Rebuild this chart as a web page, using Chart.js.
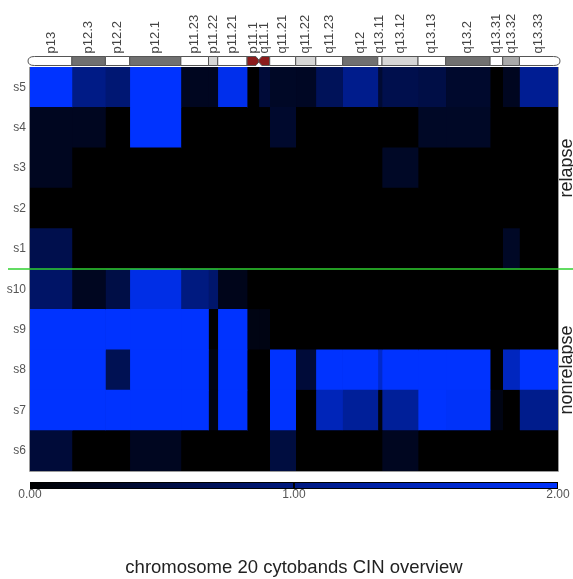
<!DOCTYPE html>
<html>
<head>
<meta charset="utf-8">
<title>chromosome 20 cytobands CIN overview</title>
<script src="https://cdn.jsdelivr.net/npm/chart.js@4.4.1/dist/chart.umd.min.js"></script>
<style>
  html, body { margin: 0; padding: 0; background: #fff; }
  canvas { display: block; }
</style>
</head>
<body>
<canvas id="cin-chart" width="573" height="579"></canvas>
<script>
// Cytobands of chromosome 20 (start positions in Mb)
const bands = ['p13', 'p12.3', 'p12.2', 'p12.1', 'p11.23', 'p11.22', 'p11.21', 'p11.1', 'q11.1',
  'q11.21', 'q11.22', 'q11.23', 'q12', 'q13.11', 'q13.12', 'q13.13', 'q13.2', 'q13.31', 'q13.32', 'q13.33'];
const bandStart = [0, 5.0, 9.0, 11.9, 18.0, 21.3, 22.4, 25.9, 27.3,
  28.6, 31.7, 34.1, 37.3, 41.5, 42.0, 46.3, 49.6, 54.9, 56.4, 58.4];
const chromEnd = 63.0;
const bandStain = ['gneg', 'gpos75', 'gneg', 'gpos75', 'gneg', 'gpos25', 'gneg', 'acen', 'acen',
  'gneg', 'gpos25', 'gneg', 'gpos75', 'gneg', 'gpos25', 'gneg', 'gpos75', 'gneg', 'gpos50', 'gneg'];

// Samples, top to bottom
const samples = ['s5', 's4', 's3', 's2', 's1', 's10', 's9', 's8', 's7', 's6'];
const groups = ['relapse', 'nonrelapse'];
const groupSize = [5, 5];

// CIN value per cytoband (0 .. 2)
const s5 = [2.0, 1.05, 0.9, 2.0, 0.25, 0.25, 1.85, 0, 0.45, 0.3, 0.28, 0.7, 1.1, 0.4, 0.6, 0.55, 0.35, 0, 0.25, 1.15];
const s4 = [0.25, 0.25, 0, 2.0, 0, 0, 0, 0, 0, 0.35, 0, 0, 0, 0, 0, 0.3, 0.3, 0, 0, 0];
const s3 = [0.25, 0, 0, 0, 0, 0, 0, 0, 0, 0, 0, 0, 0, 0, 0.3, 0, 0, 0, 0, 0];
const s2 = [0, 0, 0, 0, 0, 0, 0, 0, 0, 0, 0, 0, 0, 0, 0, 0, 0, 0, 0, 0];
const s1 = [0.6, 0, 0, 0, 0, 0, 0, 0, 0, 0, 0, 0, 0, 0, 0, 0, 0, 0, 0.3, 0];
const s10 = [0.8, 0.25, 0.55, 1.8, 1.0, 0.85, 0.2, 0, 0, 0, 0, 0, 0, 0, 0, 0, 0, 0, 0, 0];
const s9 = [2.0, 2.0, 2.0, 2.0, 2.0, 0, 2.0, 0.15, 0.15, 0, 0, 0, 0, 0, 0, 0, 0, 0, 0, 0];
const s8 = [2.0, 2.0, 0.65, 2.0, 2.0, 0.15, 2.0, 0, 0, 2.0, 0.45, 2.0, 2.0, 1.6, 2.0, 2.0, 2.0, 0, 1.5, 2.0];
const s7 = [2.0, 2.0, 2.0, 2.0, 2.0, 0.15, 2.0, 0, 0, 2.0, 0, 1.45, 1.2, 0.1, 1.2, 2.0, 1.95, 0.15, 0, 1.1];
const s6 = [0.45, 0, 0, 0.25, 0, 0, 0, 0, 0, 0.5, 0, 0, 0, 0, 0.25, 0, 0, 0, 0, 0];
const cinRows = [s5, s4, s3, s2, s1, s10, s9, s8, s7, s6];

// Colour bar
const colorTicks = [0, 1, 2];
const colorMax = 2;
const titleText = 'chromosome 20 cytobands CIN overview';

const FONT = "Arial, 'Liberation Sans', sans-serif";
const stainColors = { gneg: '#ffffff', gpos25: '#d6d6d6', gpos50: '#a9a9a9', gpos75: '#707070', acen: '#8c1c1c' };

function cinColor(v) {
  const t = Math.max(0, Math.min(1, v / colorMax));
  return 'rgb(0,' + Math.round(51 * t) + ',' + Math.round(255 * t) + ')';
}

function bandEnd(b) {
  return b < bands.length - 1 ? bandStart[b + 1] : chromEnd;
}

// one floating-bar dataset per cytoband, one bar per sample
const datasets = bands.map((band, b) => ({
  label: band,
  data: samples.map(() => [bandStart[b], bandEnd(b)]),
  backgroundColor: cinRows.map(row => cinColor(row[b])),
  borderWidth: 0,
  barPercentage: 1,
  categoryPercentage: 1
}));

const overlayPlugin = {
  id: 'cinOverlay',
  beforeDatasetsDraw(chart) {
    const { ctx, chartArea: a } = chart;
    ctx.save();
    ctx.fillStyle = '#000';
    ctx.fillRect(a.left, a.top, a.right - a.left, a.bottom - a.top);
    ctx.restore();
  },
  afterDatasetsDraw(chart) {
    const { ctx, chartArea: a, scales: { x, y } } = chart;
    ctx.save();

    // frame
    ctx.strokeStyle = '#9a9a9a';
    ctx.lineWidth = 1;
    ctx.beginPath();
    ctx.moveTo(a.left - 0.5, a.top);
    ctx.lineTo(a.left - 0.5, a.bottom + 0.5);
    ctx.lineTo(a.right + 0.5, a.bottom + 0.5);
    ctx.lineTo(a.right + 0.5, a.top);
    ctx.stroke();

    // ideogram
    const top = a.top - 10.5, h = 9, bot = top + h, mid = top + h / 2;
    ctx.strokeStyle = '#555';
    bands.forEach((band, b) => {
      const x0 = x.getPixelForValue(bandStart[b]);
      const x1 = x.getPixelForValue(bandEnd(b));
      const stain = bandStain[b];
      ctx.beginPath();
      if (stain === 'acen') {
        const p = 3;
        if (band[0] === 'p') {
          ctx.moveTo(x0, top); ctx.lineTo(x1 - p, top); ctx.lineTo(x1, mid - 1);
          ctx.lineTo(x1, mid + 1); ctx.lineTo(x1 - p, bot); ctx.lineTo(x0, bot);
        } else {
          ctx.moveTo(x1, top); ctx.lineTo(x0 + p, top); ctx.lineTo(x0, mid - 1);
          ctx.lineTo(x0, mid + 1); ctx.lineTo(x0 + p, bot); ctx.lineTo(x1, bot);
        }
      } else if (b === 0) {
        const r = 4.5;
        ctx.moveTo(x1, top); ctx.lineTo(x0 + r, top);
        ctx.quadraticCurveTo(x0 - 2, top, x0 - 2, mid);
        ctx.quadraticCurveTo(x0 - 2, bot, x0 + r, bot);
        ctx.lineTo(x1, bot);
      } else if (b === bands.length - 1) {
        const r = 4.5;
        ctx.moveTo(x0, top); ctx.lineTo(x1 - r, top);
        ctx.quadraticCurveTo(x1 + 2, top, x1 + 2, mid);
        ctx.quadraticCurveTo(x1 + 2, bot, x1 - r, bot);
        ctx.lineTo(x0, bot);
      } else {
        ctx.rect(x0, top, x1 - x0, h);
      }
      ctx.closePath();
      ctx.fillStyle = stainColors[stain];
      ctx.fill();
      ctx.stroke();
    });

    // band labels
    ctx.fillStyle = '#444';
    ctx.font = '13px ' + FONT;
    ctx.textAlign = 'left';
    ctx.textBaseline = 'middle';
    bands.forEach((band, b) => {
      const cx = (x.getPixelForValue(bandStart[b]) + x.getPixelForValue(bandEnd(b))) / 2;
      ctx.save();
      ctx.translate(cx, top - 3);
      ctx.rotate(-Math.PI / 2);
      ctx.fillText(band, 0, 0);
      ctx.restore();
    });

    // sample labels
    ctx.fillStyle = '#555';
    ctx.font = '12px ' + FONT;
    ctx.textAlign = 'right';
    samples.forEach((s, i) => {
      ctx.fillText(s, a.left - 4, y.getPixelForValue(i));
    });

    // group labels
    ctx.fillStyle = '#222';
    ctx.font = '18px ' + FONT;
    ctx.textAlign = 'center';
    ctx.textBaseline = 'alphabetic';
    let first = 0;
    groups.forEach((g, k) => {
      const cy = y.getPixelForValue(first + (groupSize[k] - 1) / 2);
      ctx.save();
      ctx.translate(572, cy);
      ctx.rotate(-Math.PI / 2);
      ctx.fillText(g, 0, 0);
      ctx.restore();
      first += groupSize[k];
    });

    // separator between groups
    const sepY = y.getPixelForValue(groupSize[0] - 0.5);
    ctx.strokeStyle = '#2fd02f';
    ctx.lineWidth = 1.5;
    ctx.beginPath();
    ctx.moveTo(8, sepY);
    ctx.lineTo(chart.width, sepY);
    ctx.stroke();

    // colour bar
    const cbTop = 482, cbH = 7;
    const grad = ctx.createLinearGradient(a.left, 0, a.right, 0);
    grad.addColorStop(0, cinColor(0));
    grad.addColorStop(1, cinColor(colorMax));
    ctx.fillStyle = grad;
    ctx.fillRect(a.left, cbTop, a.right - a.left, cbH);
    ctx.strokeStyle = '#000';
    ctx.lineWidth = 1;
    ctx.strokeRect(a.left + 0.5, cbTop + 0.5, a.right - a.left - 1, cbH - 1);
    ctx.fillStyle = '#555';
    ctx.font = '12px ' + FONT;
    ctx.textAlign = 'center';
    ctx.textBaseline = 'middle';
    colorTicks.forEach(t => {
      const tx = a.left + (a.right - a.left) * t / colorMax;
      if (t > 0 && t < colorMax) {
        ctx.lineWidth = 2;
        ctx.beginPath();
        ctx.moveTo(Math.round(tx), cbTop);
        ctx.lineTo(Math.round(tx), cbTop + cbH);
        ctx.stroke();
      }
      ctx.fillText(t.toFixed(2), tx, cbTop + cbH + 6);
    });

    // title
    ctx.fillStyle = '#222';
    ctx.font = '18.5px ' + FONT;
    ctx.fillText(titleText, (a.left + a.right) / 2, 568);

    ctx.restore();
  }
};

new Chart(document.getElementById('cin-chart').getContext('2d'), {
  type: 'bar',
  data: { labels: samples, datasets: datasets },
  options: {
    indexAxis: 'y',
    responsive: false,
    animation: false,
    devicePixelRatio: 1,
    layout: { padding: { left: 30, right: 15, top: 67, bottom: 108 } },
    scales: {
      x: { type: 'linear', min: 0, max: chromEnd, display: false },
      y: { type: 'category', stacked: true, display: false, grid: { display: false } }
    },
    plugins: {
      legend: { display: false },
      tooltip: { enabled: false },
      title: { display: false }
    }
  },
  plugins: [overlayPlugin]
});
</script>
</body>
</html>
